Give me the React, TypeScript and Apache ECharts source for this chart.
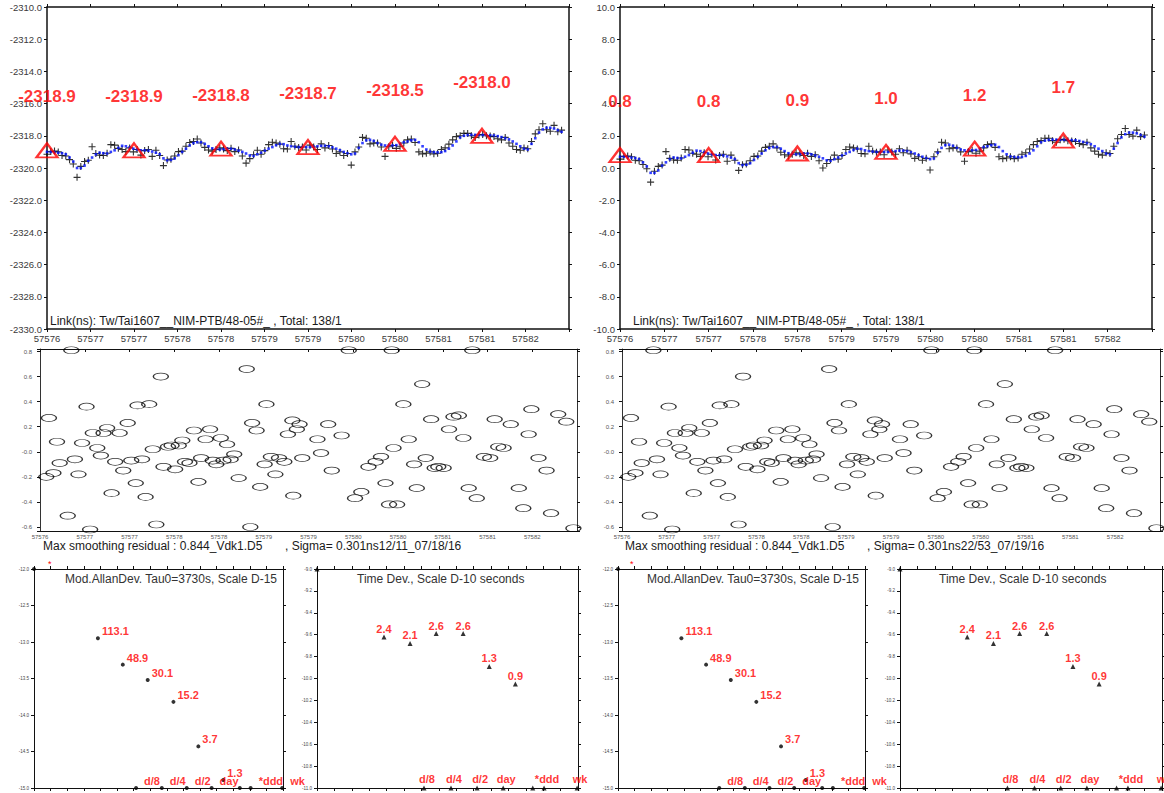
import React, { useEffect, useRef } from 'react';
import * as echarts from 'echarts';

const FONT = "'Liberation Sans', Arial, Helvetica, sans-serif";

// ---- time base ----
const MJD_START = 57576;
const MJD_END = 57582;
const TAU0_S = 3730;
const LEFT_OFFSET = -2319.7; // left panel = right panel + offset (ns)

// ---- phase data (right panel scale, ns) ----
const smoothPhase = [
  0.70, 0.70, 0.68, 0.65, 0.62, 0.55, 0.35, 0.10, -0.30, -0.30,
  -0.15, 0.15, 0.35, 0.55, 0.65, 0.62, 0.60, 0.70, 0.80, 0.95,
  1.08, 1.05, 0.98, 0.90, 0.85, 0.80, 0.80, 0.78, 0.72, 0.65,
  0.55, 0.30, 0.18, 0.20, 0.30, 0.50, 0.70, 0.90, 1.10, 1.25,
  1.30, 1.30, 1.20, 1.05, 0.92, 0.88, 0.85, 0.87, 0.90, 0.90,
  0.85, 0.78, 0.70, 0.60, 0.48, 0.45, 0.55, 0.65, 0.78, 0.90,
  1.00, 1.12, 1.20, 1.18, 1.10, 1.05, 1.02, 1.00, 1.00, 1.00,
  1.00, 1.03, 1.05, 1.08, 1.08, 1.05, 0.98, 0.90, 0.80, 0.70,
  0.62, 0.55, 0.60, 0.95, 1.25, 1.42, 1.45, 1.38, 1.25, 1.15,
  1.10, 1.10, 1.10, 1.12, 1.20, 1.30, 1.35, 1.42, 1.45, 1.30,
  1.05, 0.85, 0.72, 0.68, 0.67, 0.68, 0.75, 0.90, 1.10, 1.35,
  1.60, 1.70, 1.75, 1.76, 1.76, 1.75, 1.75, 1.74, 1.73, 1.72,
  1.68, 1.62, 1.55, 1.48, 1.35, 1.20, 1.05, 0.90, 0.85, 1.20,
  1.55, 1.90, 2.10, 2.20, 2.20, 2.15, 2.05, 1.95
];
const rawPhase = [
  0.55, 0.72, 0.75, 0.70, 0.48, 0.45, 0.22, -0.05, -0.88, -0.20,
  0.10, 0.18, 1.02, 0.60, 0.50, 0.48, 0.62, 1.15, 1.12, 0.92,
  0.85, 0.72, 0.95, 0.70, 0.85, 0.50, 0.78, 0.85, 0.42, 0.80,
  0.48, -0.15, 0.20, 0.25, 0.45, 0.72, 0.75, 1.05, 1.28, 1.35,
  1.50, 1.25, 0.98, 0.82, 0.75, 0.85, 0.95, 0.88, 0.78, 0.92,
  0.72, 0.82, 0.45, 0.00, 0.28, 0.52, 0.80, 0.55, 0.78, 1.15,
  1.30, 1.25, 1.18, 0.90, 0.88, 1.35, 1.05, 0.98, 1.00, 0.82,
  1.12, 1.00, 0.85, 1.20, 0.95, 1.10, 0.88, 0.60, 0.70, 0.48,
  0.60, -0.12, 0.70, 1.00, 1.60, 1.55, 1.20, 1.25, 1.25, 1.00,
  0.42, 1.02, 1.10, 0.92, 1.05, 1.25, 1.45, 1.50, 1.28, 0.70,
  0.58, 0.62, 0.70, 0.58, 0.62, 0.85, 0.95, 1.18, 1.45, 1.65,
  1.70, 1.85, 1.85, 1.70, 1.60, 1.75, 1.78, 1.70, 1.68, 1.65,
  1.52, 1.45, 1.60, 1.25, 1.05, 0.85, 0.80, 0.95, 0.90, 1.35,
  1.82, 2.08, 2.45, 2.08, 1.98, 2.35, 1.95, 2.05
];

const dayMjd = [57576, 57577, 57578, 57579, 57580, 57581];
const dayMeanLeft = [-2318.9, -2318.9, -2318.8, -2318.7, -2318.5, -2318.0];
const dayMeanRight = [0.8, 0.8, 0.9, 1.0, 1.2, 1.7];

// ---- smoothing residuals: [days since 57576, residual ns] ----
const residuals = [
  [0.07, -0.2], [0.10, 0.27], [0.15, -0.17], [0.19, 0.08], [0.22, -0.09], [0.31, -0.51],
  [0.35, 0.81], [0.39, -0.06], [0.43, -0.18], [0.47, 0.07], [0.52, 0.36], [0.56, -0.62],
  [0.59, 0.15], [0.64, 0.03], [0.68, -0.03], [0.71, 0.15], [0.75, 0.19], [0.80, -0.33],
  [0.84, -0.08], [0.89, 0.15], [0.93, -0.15], [0.98, 0.23], [1.02, -0.07], [1.07, -0.25],
  [1.09, 0.37], [1.14, -0.06], [1.18, -0.36], [1.22, 0.38], [1.26, 0.02], [1.30, -0.58],
  [1.35, 0.60], [1.38, -0.12], [1.43, 0.04], [1.47, 0.05], [1.51, -0.14], [1.55, 0.05],
  [1.59, 0.09], [1.62, -0.08], [1.67, -0.09], [1.72, 0.17], [1.77, -0.24], [1.80, -0.05],
  [1.85, 0.10], [1.90, 0.18], [1.93, -0.07], [1.97, -0.10], [2.02, 0.11], [2.05, -0.07],
  [2.09, 0.06], [2.13, -0.06], [2.17, -0.02], [2.22, -0.21], [2.31, 0.66], [2.35, -0.60],
  [2.37, 0.23], [2.42, 0.17], [2.46, -0.28], [2.51, -0.10], [2.53, 0.38], [2.58, -0.04],
  [2.63, -0.18], [2.67, -0.05], [2.73, -0.08], [2.77, 0.14], [2.82, 0.25], [2.83, -0.35],
  [2.87, 0.18], [2.90, 0.22], [2.93, -0.05], [3.10, 0.10], [3.14, -0.01], [3.22, 0.22],
  [3.26, -0.15], [3.37, 0.13], [3.45, 0.81], [3.52, -0.37], [3.59, -0.32], [3.67, -0.12],
  [3.75, -0.08], [3.81, -0.04], [3.86, -0.25], [3.90, -0.42], [3.93, 0.81], [3.95, 0.03],
  [3.99, -0.42], [4.06, 0.38], [4.12, 0.10], [4.18, -0.10], [4.21, -0.29], [4.27, 0.54],
  [4.31, -0.05], [4.37, 0.26], [4.41, -0.13], [4.45, -0.12], [4.51, -0.13], [4.57, 0.18],
  [4.62, 0.28], [4.68, 0.29], [4.73, 0.11], [4.79, -0.29], [4.83, 0.81], [4.88, -0.37],
  [4.96, -0.04], [5.03, -0.05], [5.08, 0.26], [5.12, 0.04], [5.18, 0.03], [5.26, 0.22],
  [5.35, -0.29], [5.40, -0.45], [5.46, 0.14], [5.49, 0.34], [5.57, -0.05], [5.66, -0.15],
  [5.71, -0.49], [5.79, 0.30], [5.88, 0.24], [5.96, -0.61]
];

// ---- stability (x = log10 tau[s], y = log10 deviation) ----
const tauLog = [3.57, 3.87, 4.17, 4.48, 4.78, 5.08];
const adevLog = [-12.95, -13.31, -13.52, -13.82, -14.43, -14.89];
const adevText = ['113.1', '48.9', '30.1', '15.2', '3.7', '1.3'];
const tdevLog = [-9.62, -9.68, -9.59, -9.59, -9.89, -10.05];
const tdevText = ['2.4', '2.1', '2.6', '2.6', '1.3', '0.9'];
const spanLog = [4.03, 4.34, 4.64, 4.94, 5.28, 5.41, 5.79];
const spanText = ['d/8', 'd/4', 'd/2', 'day', '', '*ddd', 'wk'];

const PLUS = 'path://M0,5L10,5M5,0L5,10';
const ELLIPSE = 'path://M0,5A10,5,0,1,0,20,5A10,5,0,1,0,0,5Z';

const mjdFmt = (v: number) => (v >= MJD_END - 1e-6 ? '' : String(Math.round(v)));
const residFmt = (v: number) => {
  const k = Math.round(v / 0.2);
  if (Math.abs(v - k * 0.2) > 1e-6) return '';
  return k === 0 ? '-0.0' : (k * 0.2).toFixed(1);
};

function axisSet(gridIndex: number, x: any, y: any) {
  const line = { show: true, onZero: false, lineStyle: { color: x.lineColor || '#111', width: x.lineWidth || 1 } };
  const base = { gridIndex, type: 'value', splitLine: { show: false } };
  const xs = [
    {
      ...base, position: 'bottom', min: x.min, max: x.max, interval: x.interval, splitNumber: x.splitNumber,
      axisLine: line,
      axisTick: { show: x.bottomTicks !== false, inside: false, length: 3, lineStyle: { color: '#111' } },
      axisLabel: x.label ? { show: true, fontFamily: FONT, ...x.label } : { show: false },
    },
    {
      ...base, position: 'top', min: x.min, max: x.max, interval: x.interval, splitNumber: x.splitNumber,
      axisLine: line,
      axisTick: { show: true, inside: !!x.topInside, length: 3, lineStyle: { color: '#111' } },
      axisLabel: { show: false },
    },
  ];
  const yline = { show: true, onZero: false, lineStyle: { color: y.lineColor || '#111', width: y.lineWidth || 1 } };
  const ys = [
    {
      ...base, position: 'left', min: y.min, max: y.max, interval: y.interval, splitNumber: y.splitNumber,
      axisLine: yline,
      axisTick: { show: true, inside: false, length: 3, lineStyle: { color: '#111' } },
      axisLabel: { show: true, fontFamily: FONT, ...y.label },
    },
    {
      ...base, position: 'right', min: y.min, max: y.max, interval: y.interval, splitNumber: y.splitNumber,
      axisLine: yline,
      axisTick: { show: true, inside: false, length: 3, lineStyle: { color: '#111' } },
      axisLabel: { show: false },
    },
  ];
  return { xs, ys };
}

function buildOption() {
  const grids = [
    { left: 47, top: 7, width: 522, height: 322 },
    { left: 620, top: 7, width: 532, height: 322 },
    { left: 40, top: 349, width: 537, height: 182 },
    { left: 622, top: 349, width: 538, height: 182 },
    { left: 34, top: 569, width: 249, height: 219 },
    { left: 317, top: 569, width: 261, height: 219 },
    { left: 618, top: 569, width: 247, height: 219 },
    { left: 900, top: 569, width: 262, height: 219 },
  ];
  const xAxis: any[] = [];
  const yAxis: any[] = [];
  const series: any[] = [];

  const topX = {
    min: MJD_START, max: MJD_END, interval: 0.5, lineWidth: 1.5,
    label: { fontSize: 9.5, color: '#3a3a3a', margin: 4, formatter: mjdFmt },
  };
  const midX = {
    min: MJD_START, max: MJD_END, interval: 0.5, topInside: true, bottomTicks: false,
    label: { fontSize: 6, color: '#555', margin: 3, formatter: mjdFmt },
  };
  const stabX = { min: 2.8, max: 5.8, interval: 0.2 };

  const defs = [
    { x: topX, y: { min: -2330, max: -2310, interval: 2, lineWidth: 1.5, label: { fontSize: 9.5, color: '#3a3a3a', margin: 5, formatter: (v: number) => v.toFixed(1) } } },
    { x: topX, y: { min: -10, max: 10, interval: 2, lineWidth: 1.5, label: { fontSize: 9.5, color: '#3a3a3a', margin: 5, formatter: (v: number) => v.toFixed(1) } } },
    { x: midX, y: { min: -0.632, max: 0.82, splitNumber: 7, lineColor: '#333', label: { fontSize: 6, color: '#555', margin: 8, formatter: residFmt } } },
    { x: midX, y: { min: -0.632, max: 0.82, splitNumber: 7, lineColor: '#333', label: { fontSize: 6, color: '#555', margin: 8, formatter: residFmt } } },
    { x: stabX, y: { min: -15, max: -12, interval: 0.5, label: { fontSize: 4.5, color: '#444', margin: 5, formatter: (v: number) => v.toFixed(1) } } },
    { x: stabX, y: { min: -11, max: -9, interval: 0.2, label: { fontSize: 4.5, color: '#444', margin: 5, formatter: (v: number) => v.toFixed(1) } } },
    { x: stabX, y: { min: -15, max: -12, interval: 0.5, label: { fontSize: 4.5, color: '#444', margin: 5, formatter: (v: number) => v.toFixed(1) } } },
    { x: stabX, y: { min: -11, max: -9, interval: 0.2, label: { fontSize: 4.5, color: '#444', margin: 5, formatter: (v: number) => v.toFixed(1) } } },
  ];
  defs.forEach((d, g) => {
    const { xs, ys } = axisSet(g, d.x, d.y);
    xAxis.push(...xs);
    yAxis.push(...ys);
  });

  const ax = (g: number) => ({ xAxisIndex: 2 * g, yAxisIndex: 2 * g });
  const dayStep = TAU0_S / 86400;

  // top phase panels
  [0, 1].forEach((g) => {
    const off = g === 0 ? LEFT_OFFSET : 0;
    const means = g === 0 ? dayMeanLeft : dayMeanRight;
    series.push({
      type: 'scatter', ...ax(g), silent: true, z: 2,
      data: rawPhase.map((v, i) => [MJD_START + i * dayStep, v + off]),
      symbol: PLUS, symbolSize: 7,
      itemStyle: { color: '#000', borderColor: '#000', borderWidth: 1.1 },
    });
    series.push({
      type: 'scatter', ...ax(g), silent: true, z: 3,
      data: smoothPhase.map((v, i) => [MJD_START + i * dayStep, v + off]),
      symbol: 'rect', symbolSize: 2.6,
      itemStyle: { color: '#0010ff' },
    });
    series.push({
      type: 'scatter', ...ax(g), silent: true, z: 5, clip: false,
      data: dayMjd.map((d, i) => [d, means[i]]),
      symbol: 'triangle', symbolSize: [21, 14],
      itemStyle: { color: 'rgba(0,0,0,0)', borderColor: '#ff0000', borderWidth: 2.2 },
      label: {
        show: true, position: 'top', distance: 37,
        formatter: (p: any) => means[p.dataIndex].toFixed(1),
        color: '#ff0000', fontSize: 17, fontWeight: 'bold', fontFamily: FONT,
      },
    });
  });

  // residual panels
  [2, 3].forEach((g) => {
    series.push({
      type: 'scatter', ...ax(g), silent: true, clip: false,
      data: residuals.map(([d, v]) => [MJD_START + d, v]),
      symbol: ELLIPSE, symbolSize: [15, 7],
      itemStyle: { color: 'rgba(0,0,0,0)', borderColor: '#000', borderWidth: 1 },
    });
  });

  const redLabel = { color: '#ff0000', fontWeight: 'bold', fontSize: 11, fontFamily: FONT };

  // ADEV panels
  [4, 6].forEach((g) => {
    series.push({
      type: 'scatter', ...ax(g), silent: true, clip: false,
      data: tauLog.map((x, i) => [x, adevLog[i]]),
      symbol: 'circle', symbolSize: 4, itemStyle: { color: '#000' },
      label: { show: true, position: 'right', distance: 2, offset: [0, -7], formatter: (p: any) => adevText[p.dataIndex], ...redLabel },
    });
    series.push({
      type: 'scatter', ...ax(g), silent: true, clip: false,
      data: spanLog.map((x) => [x, -15]),
      symbol: 'circle', symbolSize: 4, itemStyle: { color: '#000' },
      label: { show: true, position: 'right', distance: 6, offset: [0, -7], formatter: (p: any) => spanText[p.dataIndex], ...redLabel },
    });
    series.push({
      type: 'scatter', ...ax(g), silent: true, clip: false,
      data: [[2.8, -12]], symbol: 'circle', symbolSize: 4, itemStyle: { color: '#000' },
    });
  });

  // TDEV panels
  [5, 7].forEach((g) => {
    series.push({
      type: 'scatter', ...ax(g), silent: true, clip: false,
      data: tauLog.map((x, i) => [x, tdevLog[i]]),
      symbol: 'triangle', symbolSize: 5, itemStyle: { color: '#000' },
      label: { show: true, position: 'top', distance: 0, formatter: (p: any) => tdevText[p.dataIndex], ...redLabel },
    });
    series.push({
      type: 'scatter', ...ax(g), silent: true, clip: false,
      data: spanLog.map((x) => [x, -11]),
      symbol: 'triangle', symbolSize: 5, itemStyle: { color: '#000' },
      label: { show: true, position: 'top', distance: 1, offset: [3, 0], formatter: (p: any) => spanText[p.dataIndex], ...redLabel },
    });
    series.push({
      type: 'scatter', ...ax(g), silent: true, clip: false,
      data: [[2.8, -9]], symbol: 'triangle', symbolSize: 5, itemStyle: { color: '#000' },
    });
  });

  const txt = (x: number, y: number, text: string, extra: any = {}) => ({
    type: 'text', x, y, silent: true, z: 10,
    style: { text, fill: '#1a1a1a', fontSize: 12, fontFamily: FONT, align: 'left', verticalAlign: 'middle', ...extra },
  });

  const graphic = [
    txt(50, 321, 'Link(ns): Tw/Tai1607__NIM-PTB/48-05#_ , Total: 138/1'),
    txt(633, 321, 'Link(ns): Tw/Tai1607__NIM-PTB/48-05#_ , Total: 138/1'),
    txt(43, 546, 'Max smoothing residual : 0.844_Vdk1.D5'),
    txt(285, 546, ', Sigma= 0.301ns12/11_07/18/16'),
    txt(625, 546, 'Max smoothing residual : 0.844_Vdk1.D5'),
    txt(867, 546, ', Sigma= 0.301ns22/53_07/19/16'),
    txt(277, 579, 'Mod.AllanDev. Tau0=3730s, Scale D-15', { align: 'right', fill: '#333' }),
    txt(859, 579, 'Mod.AllanDev. Tau0=3730s, Scale D-15', { align: 'right', fill: '#333' }),
    txt(357, 579, 'Time Dev., Scale D-10 seconds', { fill: '#333' }),
    txt(939, 579, 'Time Dev., Scale D-10 seconds', { fill: '#333' }),
    txt(48, 564, '*', { fill: '#ff0000', fontSize: 9 }),
    txt(630, 564, '*', { fill: '#ff0000', fontSize: 9 }),
  ];

  return { animation: false, backgroundColor: '#ffffff', grid: grids, xAxis, yAxis, series, graphic };
}

export default function App() {
  const ref = useRef<HTMLDivElement>(null);
  useEffect(() => {
    if (!ref.current) return;
    const chart = echarts.init(ref.current, null, { renderer: 'svg' });
    chart.setOption(buildOption() as any);
    return () => chart.dispose();
  }, []);
  return (
    <div
      ref={ref}
      style={{ position: 'absolute', left: 0, top: 0, width: 1164, height: 793, background: '#fff' }}
    />
  );
}
